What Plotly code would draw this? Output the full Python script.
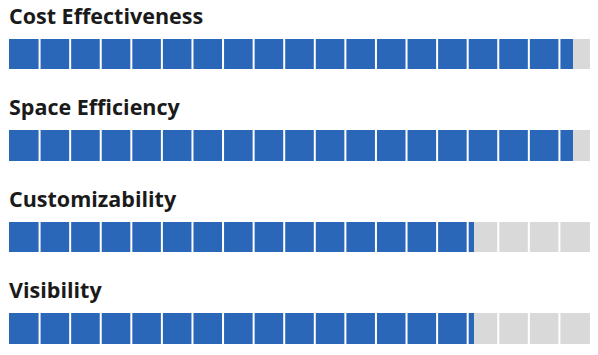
import plotly.graph_objects as go

categories = ["Cost Effectiveness", "Space Efficiency", "Customizability", "Visibility"]
values = [97, 97, 80, 80]
max_value = 100
segments = 19

blue = "#2A67B8"
gray = "#D9D9D9"

ypos = list(range(len(categories)))

fig = go.Figure()
fig.add_trace(go.Bar(
    y=ypos, x=[max_value] * len(categories), orientation="h",
    marker=dict(color=gray, line=dict(width=0)), width=0.33,
    hoverinfo="skip", showlegend=False,
))
fig.add_trace(go.Bar(
    y=ypos, x=values, orientation="h",
    marker=dict(color=blue, line=dict(width=0)), width=0.33,
    text=categories, hovertemplate="%{text}: %{x}<extra></extra>",
    textposition="none", showlegend=False,
))

# white separators between segments
for k in range(1, segments):
    xv = k * max_value / segments
    fig.add_shape(
        type="line", xref="x", yref="paper", x0=xv, x1=xv, y0=0, y1=1,
        line=dict(color="white", width=2), layer="above",
    )

for i, name in enumerate(categories):
    fig.add_annotation(
        x=0, xref="paper", y=i - 0.425, yref="y",
        text=f"<b>{name}</b>", showarrow=False,
        xanchor="left", yanchor="middle", xshift=-2,
        font=dict(family="Open Sans", size=21.5, color="#1a1a1a", weight=800),
    )

fig.update_layout(
    width=598, height=355,
    margin=dict(l=9, r=8, t=4, b=0),
    paper_bgcolor="white", plot_bgcolor="white",
    barmode="overlay",
    bargap=0,
    xaxis=dict(
        range=[0, max_value], showticklabels=False, ticks="",
        showgrid=False, zeroline=False, showline=False, fixedrange=True,
    ),
    yaxis=dict(
        range=[3.290, -0.546], showticklabels=False, ticks="",
        showgrid=False, zeroline=False, showline=False, fixedrange=True,
    ),
)

fig.write_html("out.html", config={"displayModeBar": False},
               post_script="document.body.style.margin='0';")
